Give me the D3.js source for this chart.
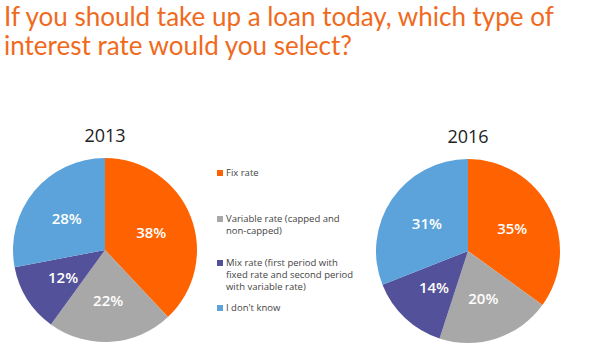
<!DOCTYPE html>
<html>
<head>
<meta charset="utf-8">
<script src="https://cdn.jsdelivr.net/npm/d3@7"></script>
<style>
  body { margin: 0; background: #fff; }
  svg { display: block; }
</style>
</head>
<body>
<div id="chart"></div>
<script>
const categories = ['Fix rate', 'Variable rate', 'Mix rate', "I don't know"]
const legendLabels = [
  ['Fix rate'],
  ['Variable rate (capped and', 'non-capped)'],
  ['Mix rate (first period with', 'fixed rate and second period', 'with variable rate)'],
  ["I don't know"]
]
const years = ['2013', '2016']
const values2013 = [38, 22, 12, 28]
const values2016 = [35, 20, 14, 31]
const colors = ['#ff6200', '#a8a8a8', '#525199', '#5ba3da']
const titleLines = ['If you should take up a loan today, which type of', 'interest rate would you select?']

const w = 600, h = 361

const svg = d3.select('#chart')
  .append('svg')
  .attr('width', w)
  .attr('height', h)

// Title
svg.append('g')
  .selectAll('text')
  .data(titleLines)
  .enter()
  .append('text')
    .attr('x', 4)
    .attr('y', (d, i) => 26 + i * 29)
    .attr('fill', '#f06a1e')
    .style('font-family', 'Lato, sans-serif')
    .style('font-weight', 400)
    .style('font-size', '26px')
    .text(d => d)

const color = d3.scaleOrdinal()
  .domain(categories)
  .range(colors)

const pie = d3.pie()
  .sort(null)
  .value(d => d.value)

const radius = 92
const arc = d3.arc()
  .innerRadius(0)
  .outerRadius(radius)

const labelArc = d3.arc()
  .innerRadius(radius * 0.54)
  .outerRadius(radius * 0.54)

const pies = [
  { year: years[0], values: values2013, cx: 105, cy: 250 },
  { year: years[1], values: values2016, cx: 468, cy: 251 }
]

pies.forEach(p => {
  const g = svg.append('g')
    .attr('transform', 'translate(' + p.cx + ',' + p.cy + ')')

  const data = pie(categories.map((c, i) => ({ key: c, value: p.values[i] })))

  g.selectAll('path')
    .data(data)
    .enter()
    .append('path')
      .attr('d', arc)
      .attr('fill', d => color(d.data.key))

  g.selectAll('text.pct')
    .data(data)
    .enter()
    .append('text')
      .attr('class', 'pct')
      .attr('transform', d => 'translate(' + labelArc.centroid(d) + ')')
      .attr('text-anchor', 'middle')
      .attr('dy', '0.4em')
      .attr('fill', '#fff')
      .style('font-family', '"Open Sans", sans-serif')
      .style('font-weight', 600)
      .style('font-size', '15px')
      .text(d => d.data.value + '%')

  g.append('text')
    .attr('x', 0)
    .attr('y', -radius - 16)
    .attr('text-anchor', 'middle')
    .attr('fill', '#222')
    .style('font-family', '"Open Sans", sans-serif')
    .style('font-size', '18px')
    .text(p.year)
})

// Legend
const legendY = [176, 222, 266, 311]
const legend = svg.append('g')
  .attr('transform', 'translate(217,0)')

const item = legend.selectAll('g')
  .data(categories)
  .enter()
  .append('g')
    .attr('transform', (d, i) => 'translate(0,' + legendY[i] + ')')

item.append('rect')
  .attr('x', 0)
  .attr('y', -6)
  .attr('width', 6)
  .attr('height', 6)
  .attr('fill', d => color(d))

item.selectAll('text')
  .data((d, i) => legendLabels[i])
  .enter()
  .append('text')
    .attr('x', 9)
    .attr('y', (d, i) => i * 12)
    .attr('fill', '#444')
    .style('font-family', '"Open Sans", sans-serif')
    .style('font-size', '9.5px')
    .text(d => d)
</script>
</body>
</html>
